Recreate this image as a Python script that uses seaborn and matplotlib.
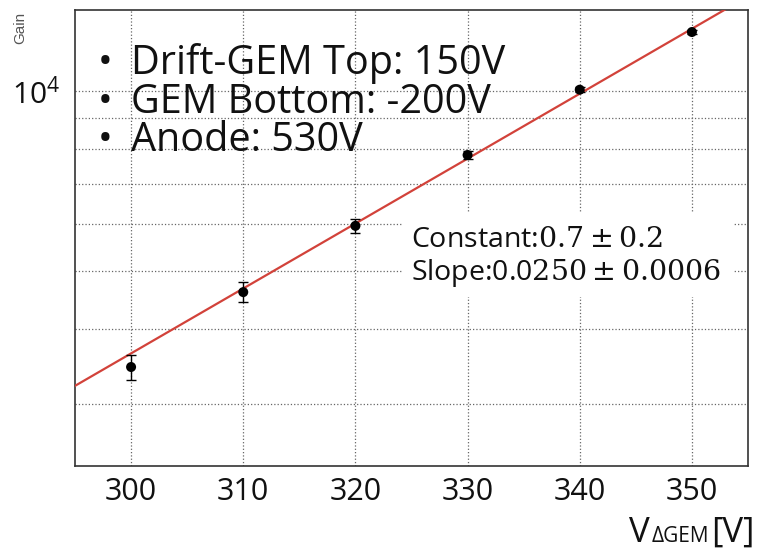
import numpy as np
import pandas as pd
import matplotlib
matplotlib.use("Agg")
import matplotlib.pyplot as plt
import matplotlib.ticker as mticker
from matplotlib.patches import Rectangle
import seaborn as sns

# Measured gain vs. GEM voltage
v_gem = [300, 310, 320, 330, 340, 350]
gain = [3455, 4610, 5950, 7815, 10050, 12550]
gain_err = [170, 180, 160, 110, 90, 80]

# Exponential fit: gain = exp(constant + slope * V)
fit_constant = 0.7
fit_constant_err = 0.2
fit_slope = 0.0250
fit_slope_err = 0.0006

x_ticks = [300, 310, 320, 330, 340, 350]
y_minor_ticks = [3000, 4000, 5000, 6000, 7000, 8000, 9000]

settings = ["Drift-GEM Top: 150V", "GEM Bottom: -200V", "Anode: 530V"]

sns.set_theme(style="white")
plt.rcParams["font.family"] = ["Open Sans", "DejaVu Sans"]
plt.rcParams["mathtext.fontset"] = "custom"
plt.rcParams["mathtext.rm"] = "Open Sans"
plt.rcParams["mathtext.bf"] = "DejaVu Serif"

W, H = 758, 553
fig = plt.figure(figsize=(W / 100, H / 100), dpi=100)
fig.patch.set_facecolor("white")


def fx(px):
    return px / W


def fy(py):
    return 1 - py / H


ax = fig.add_axes([fx(75), fy(466), fx(748) - fx(75), fy(10) - fy(466)])
ax.set_facecolor("white")

df = pd.DataFrame({"V": v_gem, "gain": gain, "err": gain_err})

# fit curve
fit_v = np.linspace(294, 356, 60)
fit_df = pd.DataFrame({"V": fit_v, "gain": np.exp(fit_constant + fit_slope * fit_v)})
sns.lineplot(data=fit_df, x="V", y="gain", color="#d2423a", linewidth=1.6, ax=ax, zorder=3)

ax.errorbar(df["V"], df["gain"], yerr=df["err"], fmt="none", ecolor="black",
            elinewidth=1.0, capsize=3.5, capthick=1.0, zorder=4)
sns.scatterplot(data=df, x="V", y="gain", color="black", s=52, edgecolor="none",
                ax=ax, zorder=5)

ax.set_yscale("log")
ax.set_xlim(295, 355)
ax.set_ylim(2360, 13660)

ax.xaxis.set_major_locator(mticker.FixedLocator(x_ticks))
ax.xaxis.set_minor_locator(mticker.MultipleLocator(2))
ax.yaxis.set_major_locator(mticker.FixedLocator([10000]))
ax.yaxis.set_major_formatter(mticker.LogFormatterSciNotation())
ax.yaxis.set_minor_locator(mticker.FixedLocator(y_minor_ticks))
ax.yaxis.set_minor_formatter(mticker.NullFormatter())

ax.tick_params(axis="x", which="major", direction="in", length=11, width=1.0,
               labelsize=22, pad=8, color="#333333", labelcolor="#111111")
ax.tick_params(axis="x", which="minor", direction="in", length=5, width=1.0,
               color="#333333")
ax.tick_params(axis="y", which="major", direction="in", length=11.5, width=1.0,
               labelsize=21.5, pad=11, color="#333333", labelcolor="#111111")
ax.tick_params(axis="y", which="minor", direction="in", length=7, width=1.0,
               color="#333333")

ax.set_axisbelow(True)
ax.grid(True, which="major", axis="x", linestyle=":", color="#666666", linewidth=0.9)
ax.grid(True, which="minor", axis="y", linestyle=":", color="#666666", linewidth=0.9)
ax.grid(True, which="major", axis="y", linestyle=":", color="#666666", linewidth=0.9)

for sp in ax.spines.values():
    sp.set_color("#333333")
    sp.set_linewidth(1.2)

ax.set_xlabel("")
ax.set_ylabel("")

# x-axis title: V with a small ΔGEM tag on the same baseline, then the unit
fig.text(fx(629), fy(542), "V", ha="left", va="baseline", fontsize=25, color="#111111")
fig.text(fx(652), fy(542), "\u0394GEM", ha="left", va="baseline", fontsize=15,
         color="#111111")
fig.text(fx(755), fy(542), "[V]", ha="right", va="baseline", fontsize=25,
         color="#111111")
fig.text(fx(20), fy(28), "Gain", rotation=90, ha="center", va="center",
         fontsize=11, color="#555555", family=["Liberation Sans", "DejaVu Sans"])

# run conditions
for label, base in zip(settings, [74, 113, 151]):
    fig.text(fx(105), fy(base), "\u2022", ha="center", va="baseline",
             fontsize=28.5, color="#111111")
    fig.text(fx(131), fy(base), label, ha="left", va="baseline",
             fontsize=28.5, color="#111111")

# fit result box
ax.add_patch(Rectangle((fx(402), fy(297)), fx(733) - fx(402), fy(212) - fy(297),
                       transform=fig.transFigure, facecolor="white",
                       edgecolor="none", zorder=2))
fig.text(fx(411), fy(247),
         "Constant:" + r"$\mathbf{%.1f \pm %.1f}$" % (fit_constant, fit_constant_err),
         ha="left", va="baseline", fontsize=20.5, color="#111111")
fig.text(fx(411), fy(280),
         "Slope:0.0" + r"$\mathbf{%s \pm %.4f}$" % (f"{fit_slope:.4f}"[3:], fit_slope_err),
         ha="left", va="baseline", fontsize=20.5, color="#111111")

fig.savefig("out.png", dpi=100, facecolor="white")
